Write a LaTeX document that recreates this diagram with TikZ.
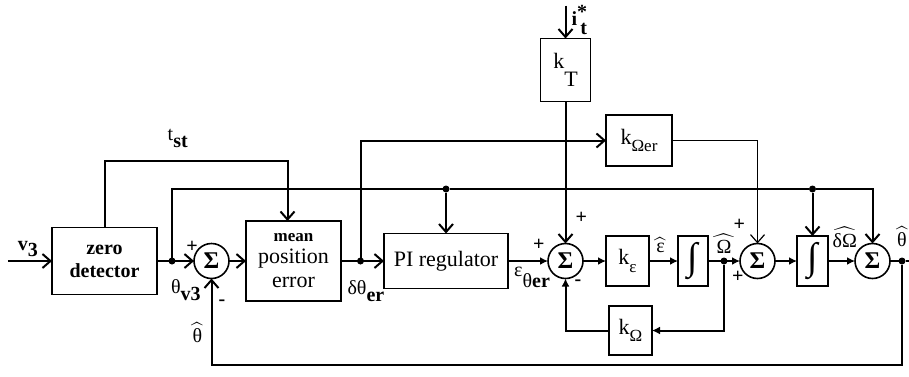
\documentclass[tikz,border=0pt]{standalone}
\usepackage{amsmath}
\usepackage{exscale}
\usepackage{fontspec}
\setmainfont{Liberation Serif}
\usetikzlibrary{arrows.meta,positioning}

\begin{document}
\begin{tikzpicture}[
  x=1pt, y=1pt,
  font=\fontsize{20}{22}\selectfont,
  line width=2pt,
  >={Straight Barb[length=8pt,width=14pt]},
  tri/.style={-{Latex[length=8pt,width=8pt]}},
  block/.style={draw, line width=1.6pt, outer sep=0pt, align=center, inner sep=1pt, font=\fontsize{22}{24}\selectfont},
  sum/.style={draw, circle, line width=1.6pt, outer sep=0pt, minimum size=35pt, inner sep=0pt, font=\fontsize{24}{24}\selectfont\bfseries},
  dot/.style={circle, fill, outer sep=0pt, inner sep=0pt, minimum size=7pt},
  lbl/.style={inner sep=0pt},
  sgn/.style={inner sep=0pt, font=\fontsize{20}{20}\selectfont\bfseries}
]
\useasboundingbox (-104.5,-115) rectangle (804.5,261);
% forward path
\node[block, minimum width=105pt, minimum height=67pt, font=\fontsize{20}{23}\selectfont\bfseries] (zd) at (0,0) {zero\\detector};
\node[sum, right=37pt of zd] (s1) {Σ};
\node[block, right=17pt of s1, minimum width=95pt, minimum height=80pt] (mpe) {{\fontsize{17}{18}\selectfont\bfseries mean}\\[-2pt]position\\error};
\node[block, right=43pt of mpe, minimum width=124pt, minimum height=55pt] (pi) {PI regulator};
\node[sum, right=40pt of pi] (s2) {Σ};
\node[block, right=23pt of s2, minimum width=43pt, minimum height=50pt] (ke) {k\raisebox{-8pt}{\fontsize{17}{17}\selectfont ε}};
\node[block, right=29pt of ke, minimum width=30pt, minimum height=50pt, font=\fontsize{38}{38}\selectfont] (int1) {∫};
\node[sum, right=32pt of int1] (s3) {Σ};
\node[block, right=22pt of s3, minimum width=31pt, minimum height=50pt, font=\fontsize{38}{38}\selectfont] (int2) {∫};
\node[sum, right=27pt of int2] (s4) {Σ};
\node[dot, right=8.5pt of s4] (jout) {};
\coordinate[right=3pt of jout] (out);
% side blocks
\node[block, above=142pt of s2, minimum width=50pt, minimum height=63pt] (kT) {k\raisebox{-18pt}{T}};
\node[block, above=70pt of ke, xshift=11.5pt, minimum width=66pt, minimum height=51pt] (kOer) {k\raisebox{-7pt}{\fontsize{17}{17}\selectfont Ωer}};
\node[block, below=20pt of ke, xshift=3pt, minimum width=43pt, minimum height=49pt] (kO) {k\raisebox{-7pt}{\fontsize{17}{17}\selectfont Ω}};
% branch points
\node[dot, right=11.5pt of zd] (j1) {};
\node[dot, right=16pt of mpe] (jd) {};
\node[dot, right=12.5pt of int1] (jo) {};
\node[dot, above=41pt of pi] (jpi) {};
\node[dot, above=43.5pt of int2] (jint) {};
\coordinate[left=44pt of zd] (vin);
\coordinate[above=33pt of kT] (iin);

\draw[->] (vin) -- node[lbl, pos=0.45, above=3pt, font=\fontsize{20}{20}\selectfont\bfseries] (lv) {v\raisebox{-6pt}{3}} (zd);
\draw[->] (zd) -- node[lbl, pos=0.78, below=18pt] (lthv) {θ\raisebox{-7pt}{\bfseries v3}} node[sgn, pos=0.95, above=8pt] (lp1) {+} (s1);
\draw[->] (s1) -- (mpe);
\draw[->] (mpe) -- node[lbl, pos=0.58, below=19pt] (ldth) {δθ\raisebox{-7pt}{\bfseries er}} (pi);
\draw[tri] (pi) -- node[lbl, pos=0.6, below=5pt] (leps) {ε\raisebox{-11pt}{θ\bfseries er}} node[sgn, pos=0.77, above=10pt] (lp2) {+} (s2);
\draw[tri] (s2) -- (ke);
\draw[tri] (ke) -- node[lbl, pos=0.4, above=7pt] (lehat) {$\widehat{\text{\,ε\,}}$} (int1);
\draw[tri] (int1) -- node[sgn, pos=0.93, below=9pt] (lp4) {+} (s3);
\draw[tri] (s3) -- (int2);
\draw[tri] (int2) -- node[lbl, pos=0.62, above=12pt] (ldO) {$\widehat{\text{δΩ}}$} (s4);
\draw (s4) -- (jout) -- (out);
\node[lbl, above=10pt of jout] (lthout) {$\widehat{\text{\,θ\,}}$};
\node[lbl, above=3pt of jo] (lOm) {$\widehat{\text{\,Ω\,}}$};

% theta_v3 feed-forward line
\draw (j1) |- (jpi) -- (jint);
\draw[->] (jpi) -- (pi);
\draw[->] (jint) -- (int2);
\draw[->] (jint) -| (s4);

% t_st
\draw[->] (zd) -- ++(0,100pt) -| node[lbl, pos=0.2, above=12pt] (ltst) {t\raisebox{-7pt}{\bfseries st}} ([xshift=-6pt]mpe.north);

\draw[->] (jd) |- (kOer);
\draw[->] (iin) -- node[lbl, pos=0.45, right=5pt] (li) {\bfseries i\,\raisebox{-9pt}{t}\llap{\raisebox{7pt}{*}}} (kT);
\draw[->] (kT) -- node[sgn, pos=0.82, right=9pt] (lp3) {+} (s2);
\draw[->, line width=1.2pt] (kOer) -| node[sgn, pos=0.91, left=12pt] (lp5) {+} (s3);

\draw[tri] (jo) |- (kO);
\draw[tri] (kO) -| node[sgn, pos=0.96, right=8pt] (lm2) {-} (s2);

% feedback
\draw[->] (jout) -- ++(0,-104pt) -| node[lbl, pos=0.69, left=5pt] (lth) {$\widehat{\text{\,θ\,}}$} node[sgn, pos=0.86, right=6pt] (lm1) {-} (s1);
\end{tikzpicture}
\end{document}
